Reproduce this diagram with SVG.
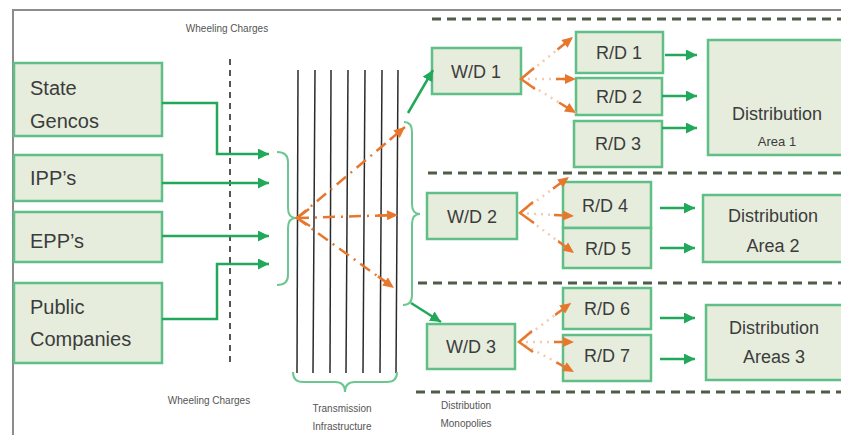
<svg xmlns="http://www.w3.org/2000/svg" width="841" height="435" viewBox="0 0 841 435">
<defs>
<style>
.box{fill:#e6eddd;stroke:#5fbf86;stroke-width:2.5}
.t{font-family:"Liberation Sans",Arial,sans-serif;fill:#3c3c3c}
.big{font-size:20px}
.mid{font-size:18px}
.sm{font-size:10px;fill:#555}
.g{fill:none;stroke:#22a85a;stroke-width:2.5}
.brace{fill:none;stroke:#6cc690;stroke-width:2}
.sep{fill:none;stroke:#4f5c47;stroke-width:3;stroke-dasharray:9 6}
.tl{stroke:#2a2a2a;stroke-width:1.5}
.od{fill:none;stroke:#e8772e;stroke-width:2.5;stroke-dasharray:12 6 2 6}
.dot{fill:none;stroke:#f3ccb0;stroke-width:2.5;stroke-dasharray:2 5}
.chev{fill:none;stroke:#e8772e;stroke-width:2.5}
</style>
<marker id="ga" viewBox="0 0 10 10" refX="10" refY="5" markerWidth="11" markerHeight="11" markerUnits="userSpaceOnUse" orient="auto"><path d="M0,0 L10,5 L0,10 Z" fill="#22a85a"/></marker>
<marker id="oa" viewBox="0 0 20 10" refX="20" refY="5" markerWidth="20" markerHeight="10" markerUnits="userSpaceOnUse" orient="auto"><path d="M0,5 L11,5" stroke="#e8772e" stroke-width="2.5"/><path d="M9,0 L20,5 L9,10 Z" fill="#e8772e"/></marker>
</defs>
<rect width="841" height="435" fill="#ffffff"/>
<path d="M13,436 V10 H842" fill="none" stroke="#8c8c8c" stroke-width="2"/>

<g id="labels">
<text class="t sm" x="227" y="32" text-anchor="middle">Wheeling Charges</text>
<text class="t sm" x="209" y="404" text-anchor="middle">Wheeling Charges</text>
<text class="t sm" x="342" y="412" text-anchor="middle">Transmission</text>
<text class="t sm" x="342" y="430" text-anchor="middle">Infrastructure</text>
<text class="t sm" x="466" y="409" text-anchor="middle">Distribution</text>
<text class="t sm" x="466" y="427" text-anchor="middle">Monopolies</text>
</g>

<g id="separators">
<line class="sep" x1="432" y1="19" x2="841" y2="19"/>
<line class="sep" x1="428" y1="173" x2="841" y2="173"/>
<line class="sep" x1="418" y1="283" x2="841" y2="283"/>
<line class="sep" x1="416" y1="392" x2="841" y2="392"/>
<line x1="230" y1="59" x2="230" y2="367" stroke="#555" stroke-width="2" stroke-dasharray="6 5"/>
</g>

<g id="transmission">
<line class="tl" x1="298" y1="70" x2="297" y2="373"/>
<line class="tl" x1="315" y1="70" x2="313" y2="373"/>
<line class="tl" x1="331" y1="70" x2="330" y2="373"/>
<line class="tl" x1="348" y1="70" x2="346" y2="373"/>
<line class="tl" x1="365" y1="70" x2="363" y2="373"/>
<line class="tl" x1="382" y1="70" x2="380" y2="373"/>
<line class="tl" x1="398" y1="70" x2="396" y2="373"/>
<path class="brace" d="M293,372 Q293,382 303,382 L335,382 Q345,382 345,392 Q345,382 355,382 L387,382 Q397,382 397,372"/>
</g>

<g id="state-gencos"><rect class="box" x="14" y="63" width="148" height="73"/><text class="t big" x="30" y="95">State</text><text class="t big" x="30" y="128">Gencos</text></g>
<g id="ipps"><rect class="box" x="14" y="155" width="148" height="46"/><text class="t big" x="30" y="185">IPP’s</text></g>
<g id="epps"><rect class="box" x="14" y="212" width="148" height="50"/><text class="t big" x="30" y="248">EPP’s</text></g>
<g id="public-companies"><rect class="box" x="14" y="283" width="148" height="80"/><text class="t big" x="30" y="314">Public</text><text class="t big" x="30" y="346">Companies</text></g>

<g id="wd1"><rect class="box" x="432" y="48" width="89" height="46"/><text class="t mid" x="476" y="78" text-anchor="middle">W/D 1</text></g>
<g id="wd2"><rect class="box" x="427" y="193" width="90" height="46"/><text class="t mid" x="472" y="223" text-anchor="middle">W/D 2</text></g>
<g id="wd3"><rect class="box" x="427" y="324" width="88" height="45"/><text class="t mid" x="471" y="353" text-anchor="middle">W/D 3</text></g>

<g id="rd1"><rect class="box" x="576" y="32" width="87" height="41"/><text class="t mid" x="619" y="59" text-anchor="middle">R/D 1</text></g>
<g id="rd2"><rect class="box" x="576" y="78" width="86" height="37"/><text class="t mid" x="619" y="103" text-anchor="middle">R/D 2</text></g>
<g id="rd3"><rect class="box" x="574" y="121" width="88" height="46"/><text class="t mid" x="618" y="150" text-anchor="middle">R/D 3</text></g>
<g id="rd4"><rect class="box" x="563" y="182" width="88" height="46"/><text class="t mid" x="605" y="212" text-anchor="middle">R/D 4</text></g>
<g id="rd5"><rect class="box" x="563" y="228" width="88" height="40"/><text class="t mid" x="608" y="255" text-anchor="middle">R/D 5</text></g>
<g id="rd6"><rect class="box" x="563" y="288" width="88" height="41"/><text class="t mid" x="607" y="315" text-anchor="middle">R/D 6</text></g>
<g id="rd7"><rect class="box" x="563" y="335" width="88" height="46"/><text class="t mid" x="607" y="362" text-anchor="middle">R/D 7</text></g>

<g id="area1"><rect class="box" x="708" y="40" width="145" height="115"/><text class="t mid" x="777" y="120" text-anchor="middle">Distribution</text><text class="t" font-size="13" x="777" y="146" text-anchor="middle">Area 1</text></g>
<g id="area2"><rect class="box" x="703" y="195" width="150" height="67"/><text class="t mid" x="773" y="222" text-anchor="middle">Distribution</text><text class="t mid" x="773" y="252" text-anchor="middle">Area 2</text></g>
<g id="area3"><rect class="box" x="706" y="305" width="150" height="75"/><text class="t mid" x="774" y="334" text-anchor="middle">Distribution</text><text class="t mid" x="774" y="363" text-anchor="middle">Areas 3</text></g>

<g id="connectors">
<path class="g" d="M162,103 H217 V154 H269" marker-end="url(#ga)"/>
<path class="g" d="M162,183 H269" marker-end="url(#ga)"/>
<path class="g" d="M162,236 H269" marker-end="url(#ga)"/>
<path class="g" d="M162,319 H217 V264 H269" marker-end="url(#ga)"/>
<path class="brace" d="M277,152 Q288,152 288,162 L288,208 Q288,218 296,218 Q288,218 288,228 L288,275 Q288,285 277,285"/>
<path class="brace" d="M404,122 Q412,122 412,132 L412,204 Q412,214 420,214 Q412,214 412,224 L412,295 Q412,305 403,305"/>
<path class="g" d="M408,113 L433,70" marker-end="url(#ga)"/>
<path class="g" d="M411,303 L441,322" marker-end="url(#ga)"/>
<path class="od" d="M297,218 L405,127" marker-end="url(#oa)"/>
<path class="od" d="M297,218 L398,215" marker-end="url(#oa)"/>
<path class="od" d="M297,218 L394,288" marker-end="url(#oa)"/>
<path class="chev" d="M309,209 L297,218 L310,226"/>
<path class="dot" d="M521,79 L573,37" marker-end="url(#oa)"/>
<path class="dot" d="M521,79 L576,79" marker-end="url(#oa)"/>
<path class="dot" d="M521,79 L576,113" marker-end="url(#oa)"/>
<path class="chev" d="M534,68 L521,79 L535,89"/>
<path class="dot" d="M520,213 L569,177" marker-end="url(#oa)"/>
<path class="dot" d="M520,213 L574,216" marker-end="url(#oa)"/>
<path class="dot" d="M520,213 L574,253" marker-end="url(#oa)"/>
<path class="chev" d="M533,202 L520,213 L534,223"/>
<path class="dot" d="M519,342 L571,303" marker-end="url(#oa)"/>
<path class="dot" d="M519,342 L574,342" marker-end="url(#oa)"/>
<path class="dot" d="M519,342 L574,372" marker-end="url(#oa)"/>
<path class="chev" d="M532,331 L519,342 L533,352"/>
<path class="g" d="M665,55 H697" marker-end="url(#ga)"/>
<path class="g" d="M662,96 H697" marker-end="url(#ga)"/>
<path class="g" d="M662,128 H697" marker-end="url(#ga)"/>
<path class="g" d="M660,208 H695" marker-end="url(#ga)"/>
<path class="g" d="M660,248 H695" marker-end="url(#ga)"/>
<path class="g" d="M660,318 H695" marker-end="url(#ga)"/>
<path class="g" d="M660,359 H695" marker-end="url(#ga)"/>
</g>
</svg>
